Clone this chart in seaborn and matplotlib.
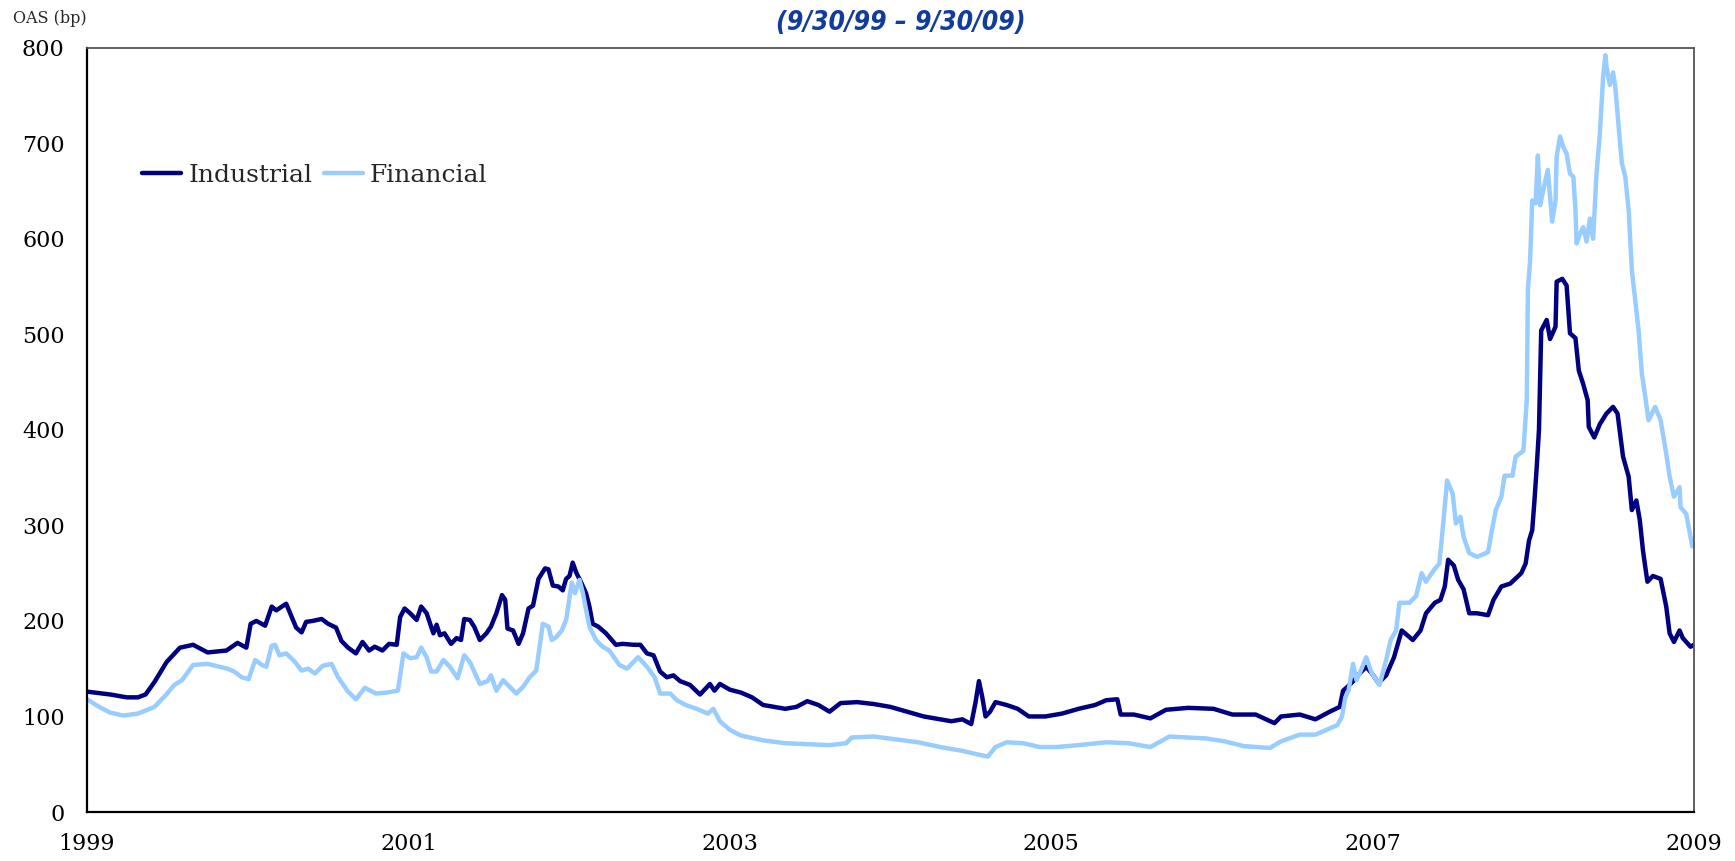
import pandas as pd
import matplotlib
matplotlib.use("Agg")
import matplotlib.pyplot as plt
import seaborn as sns

#-----------------------------------------
# datos (anio decimal, OAS en bp)
#-----------------------------------------
ind_year = [1999.000, 1999.145, 1999.248, 1999.317, 1999.365, 1999.420, 1999.496, 1999.579,
            1999.661, 1999.751, 1999.868, 1999.937, 1999.992, 2000.019, 2000.054, 2000.109,
            2000.150, 2000.178, 2000.240, 2000.302, 2000.336, 2000.364, 2000.405, 2000.460,
            2000.501, 2000.550, 2000.584, 2000.625, 2000.674, 2000.715, 2000.756, 2000.791,
            2000.839, 2000.880, 2000.928, 2000.949, 2000.977, 2001.011, 2001.052, 2001.080,
            2001.114, 2001.156, 2001.176, 2001.197, 2001.225, 2001.266, 2001.300, 2001.328,
            2001.348, 2001.383, 2001.410, 2001.445, 2001.486, 2001.514, 2001.548, 2001.583,
            2001.603, 2001.617, 2001.652, 2001.686, 2001.714, 2001.748, 2001.776, 2001.810,
            2001.851, 2001.872, 2001.899, 2001.934, 2001.961, 2001.982, 2002.003, 2002.023,
            2002.044, 2002.079, 2002.106, 2002.127, 2002.147, 2002.182, 2002.230, 2002.292,
            2002.333, 2002.402, 2002.444, 2002.485, 2002.526, 2002.567, 2002.609, 2002.650,
            2002.691, 2002.753, 2002.815, 2002.877, 2002.905, 2002.939, 2003.001, 2003.070,
            2003.139, 2003.208, 2003.277, 2003.346, 2003.415, 2003.483, 2003.552, 2003.621,
            2003.690, 2003.793, 2003.897, 2004.000, 2004.103, 2004.207, 2004.310, 2004.379,
            2004.448, 2004.503, 2004.530, 2004.551, 2004.572, 2004.592, 2004.620, 2004.654,
            2004.723, 2004.792, 2004.861, 2004.964, 2005.068, 2005.171, 2005.274, 2005.343,
            2005.412, 2005.433, 2005.515, 2005.618, 2005.715, 2005.853, 2006.011, 2006.128,
            2006.273, 2006.390, 2006.431, 2006.548, 2006.645, 2006.734, 2006.796, 2006.817,
            2006.844, 2006.886, 2006.920, 2006.961, 2006.996, 2007.037, 2007.085, 2007.134,
            2007.182, 2007.251, 2007.299, 2007.333, 2007.388, 2007.423, 2007.450, 2007.471,
            2007.506, 2007.533, 2007.567, 2007.602, 2007.650, 2007.719, 2007.753, 2007.802,
            2007.857, 2007.926, 2007.953, 2007.974, 2007.994, 2008.008, 2008.022, 2008.036,
            2008.043, 2008.050, 2008.084, 2008.105, 2008.139, 2008.146, 2008.181, 2008.208,
            2008.229, 2008.263, 2008.284, 2008.311, 2008.339, 2008.346, 2008.380, 2008.415,
            2008.456, 2008.497, 2008.525, 2008.559, 2008.594, 2008.614, 2008.642, 2008.663,
            2008.683, 2008.697, 2008.711, 2008.745, 2008.793, 2008.828, 2008.849, 2008.876,
            2008.911, 2008.931, 2008.979, 2009.000]
ind_oas = [126, 123, 120, 120, 123, 136, 157, 172,
           175, 167, 169, 177, 172, 197, 200, 195,
           215, 211, 218, 193, 188, 199, 200, 202,
           197, 193, 179, 172, 166, 178, 169, 173,
           169, 176, 175, 204, 213, 208, 201, 215,
           208, 187, 196, 185, 187, 176, 182, 180,
           202, 201, 194, 180, 187, 194, 208, 227,
           222, 192, 190, 176, 187, 213, 216, 244,
           255, 254, 237, 236, 232, 244, 247, 261,
           251, 239, 229, 215, 197, 194, 187, 175,
           176, 175, 175, 166, 164, 147, 141, 143,
           137, 133, 123, 134, 127, 134, 128, 125,
           120, 112, 110, 108, 110, 116, 112, 105,
           114, 115, 113, 110, 105, 100, 97, 95,
           97, 92, 115, 137, 120, 100, 105, 115,
           112, 108, 100, 100, 103, 108, 112, 117,
           118, 102, 102, 98, 107, 109, 108, 102,
           102, 93, 100, 102, 97, 105, 110, 127,
           131, 138, 145, 152, 145, 135, 143, 162,
           190, 180, 190, 208, 219, 222, 236, 264,
           258, 243, 233, 208, 208, 206, 222, 236,
           239, 250, 260, 284, 295, 326, 361, 400,
           450, 504, 515, 495, 508, 555, 558, 551,
           501, 496, 462, 448, 431, 403, 392, 406,
           417, 424, 417, 372, 351, 316, 326, 306,
           274, 257, 241, 247, 244, 215, 187, 178,
           190, 182, 173, 175]

fin_year = [1999.000, 1999.076, 1999.145, 1999.227, 1999.317, 1999.420, 1999.489, 1999.544,
            1999.592, 1999.661, 1999.751, 1999.875, 1999.916, 1999.964, 2000.006, 2000.047,
            2000.088, 2000.116, 2000.150, 2000.171, 2000.198, 2000.240, 2000.295, 2000.336,
            2000.377, 2000.419, 2000.467, 2000.522, 2000.563, 2000.625, 2000.674, 2000.729,
            2000.798, 2000.866, 2000.935, 2000.970, 2001.011, 2001.052, 2001.080, 2001.114,
            2001.142, 2001.176, 2001.218, 2001.259, 2001.307, 2001.348, 2001.383, 2001.445,
            2001.493, 2001.514, 2001.548, 2001.590, 2001.672, 2001.714, 2001.755, 2001.796,
            2001.837, 2001.872, 2001.893, 2001.920, 2001.955, 2001.982, 2002.017, 2002.037,
            2002.065, 2002.085, 2002.127, 2002.168, 2002.209, 2002.251, 2002.313, 2002.361,
            2002.430, 2002.485, 2002.533, 2002.567, 2002.630, 2002.671, 2002.726, 2002.795,
            2002.864, 2002.898, 2002.939, 2003.001, 2003.070, 2003.208, 2003.346, 2003.483,
            2003.621, 2003.725, 2003.759, 2003.897, 2004.034, 2004.172, 2004.310, 2004.448,
            2004.551, 2004.606, 2004.654, 2004.723, 2004.826, 2004.930, 2005.033, 2005.171,
            2005.343, 2005.481, 2005.618, 2005.736, 2005.963, 2006.080, 2006.197, 2006.362,
            2006.431, 2006.548, 2006.645, 2006.713, 2006.782, 2006.810, 2006.831, 2006.851,
            2006.879, 2006.900, 2006.920, 2006.961, 2006.996, 2007.044, 2007.085, 2007.113,
            2007.147, 2007.168, 2007.230, 2007.271, 2007.306, 2007.333, 2007.381, 2007.416,
            2007.430, 2007.450, 2007.464, 2007.499, 2007.519, 2007.547, 2007.567, 2007.602,
            2007.650, 2007.719, 2007.740, 2007.767, 2007.802, 2007.822, 2007.871, 2007.891,
            2007.939, 2007.960, 2007.967, 2007.981, 2007.994, 2008.015, 2008.029, 2008.043,
            2008.063, 2008.091, 2008.118, 2008.139, 2008.146, 2008.167, 2008.187, 2008.208,
            2008.229, 2008.250, 2008.263, 2008.270, 2008.291, 2008.311, 2008.332, 2008.353,
            2008.373, 2008.394, 2008.415, 2008.435, 2008.449, 2008.456, 2008.477, 2008.497,
            2008.511, 2008.518, 2008.539, 2008.552, 2008.573, 2008.594, 2008.614, 2008.635,
            2008.656, 2008.676, 2008.697, 2008.718, 2008.759, 2008.793, 2008.828, 2008.849,
            2008.876, 2008.911, 2008.917, 2008.952, 2008.990, 2009.000]
fin_oas = [118, 110, 104, 101, 103, 110, 122, 133,
           138, 154, 155, 150, 147, 141, 139, 159,
           154, 152, 174, 175, 164, 166, 157, 148,
           150, 145, 153, 155, 141, 126, 118, 130,
           124, 125, 127, 166, 161, 162, 172, 162,
           147, 147, 159, 152, 140, 164, 157, 134,
           137, 143, 127, 138, 124, 131, 141, 148,
           197, 194, 180, 183, 190, 201, 240, 229,
           243, 230, 194, 180, 173, 169, 154, 150,
           162, 152, 141, 124, 124, 117, 112, 108,
           103, 108, 95, 86, 80, 75, 72, 71,
           70, 72, 78, 79, 76, 73, 68, 64,
           60, 58, 68, 73, 72, 68, 68, 70,
           73, 72, 68, 79, 77, 74, 69, 67,
           74, 81, 81, 86, 91, 100, 120, 127,
           155, 138, 145, 162, 145, 133, 159, 180,
           190, 219, 219, 226, 250, 241, 253, 260,
           284, 320, 347, 333, 302, 309, 288, 271,
           267, 272, 292, 316, 330, 352, 352, 372,
           378, 431, 546, 578, 640, 637, 687, 635,
           651, 672, 618, 640, 686, 707, 696, 689,
           668, 665, 630, 595, 605, 612, 597, 621,
           600, 668, 710, 769, 792, 780, 761, 774,
           759, 745, 703, 679, 665, 630, 567, 536,
           504, 459, 435, 410, 424, 410, 375, 351,
           330, 340, 319, 312, 278, 286]

series_names = ["Industrial", "Financial"]
series_colors = ["#000080", "#99CCFF"]
year_ticks = [1999, 2001, 2003, 2005, 2007, 2009]
oas_ticks = [0, 100, 200, 300, 400, 500, 600, 700, 800]

df = pd.concat([
    pd.DataFrame({"year": ind_year, "oas": ind_oas, "serie": series_names[0]}),
    pd.DataFrame({"year": fin_year, "oas": fin_oas, "serie": series_names[1]}),
], ignore_index=True)

#-----------------------------------------
# estilo
#-----------------------------------------
sns.set_style("white")
plt.rcParams['font.family'] = ['DejaVu Serif']

fig = plt.figure(figsize=(17.35, 8.61), dpi=100)
ax = fig.add_axes([0.0501, 0.0569, 0.9262, 0.8878])

sns.lineplot(data=df, x="year", y="oas", hue="serie", hue_order=series_names,
             palette=dict(zip(series_names, series_colors)), estimator=None,
             sort=False, linewidth=3.2, ax=ax)

ax.set_xlim(1999, 2009)
ax.set_ylim(0, 800)
ax.set_xticks(year_ticks)
ax.set_yticks(oas_ticks)
ax.set_xlabel("")
ax.set_ylabel("")
ax.tick_params(axis="both", direction="out", length=5, width=1.3, color="black",
               labelsize=16, labelcolor="black")
ax.tick_params(axis="y", pad=11)
ax.tick_params(axis="x", pad=10)

for s in ["left", "bottom"]:
    ax.spines[s].set_color("black")
    ax.spines[s].set_linewidth(1.6)
for s in ["top", "right"]:
    ax.spines[s].set_color("#555555")
    ax.spines[s].set_linewidth(1.3)

leg = ax.legend(loc="center left", bbox_to_anchor=(0.0345, 0.833), frameon=False,
                ncol=2, fontsize=18, handlelength=1.55, handletextpad=0.3,
                columnspacing=0.45, borderpad=0, borderaxespad=0)

fig.text(0.0075, 0.979, "OAS (bp)", fontsize=11.5, ha="left", va="center")
fig.text(0.519, 0.973, "(9/30/99 \u2013 9/30/09)", fontsize=19, ha="center", va="center",
         color="#123C9C", fontweight="bold", fontstyle="italic", fontstretch="condensed",
         family=["DejaVu Sans"])

plt.savefig("out.png", dpi=100)
